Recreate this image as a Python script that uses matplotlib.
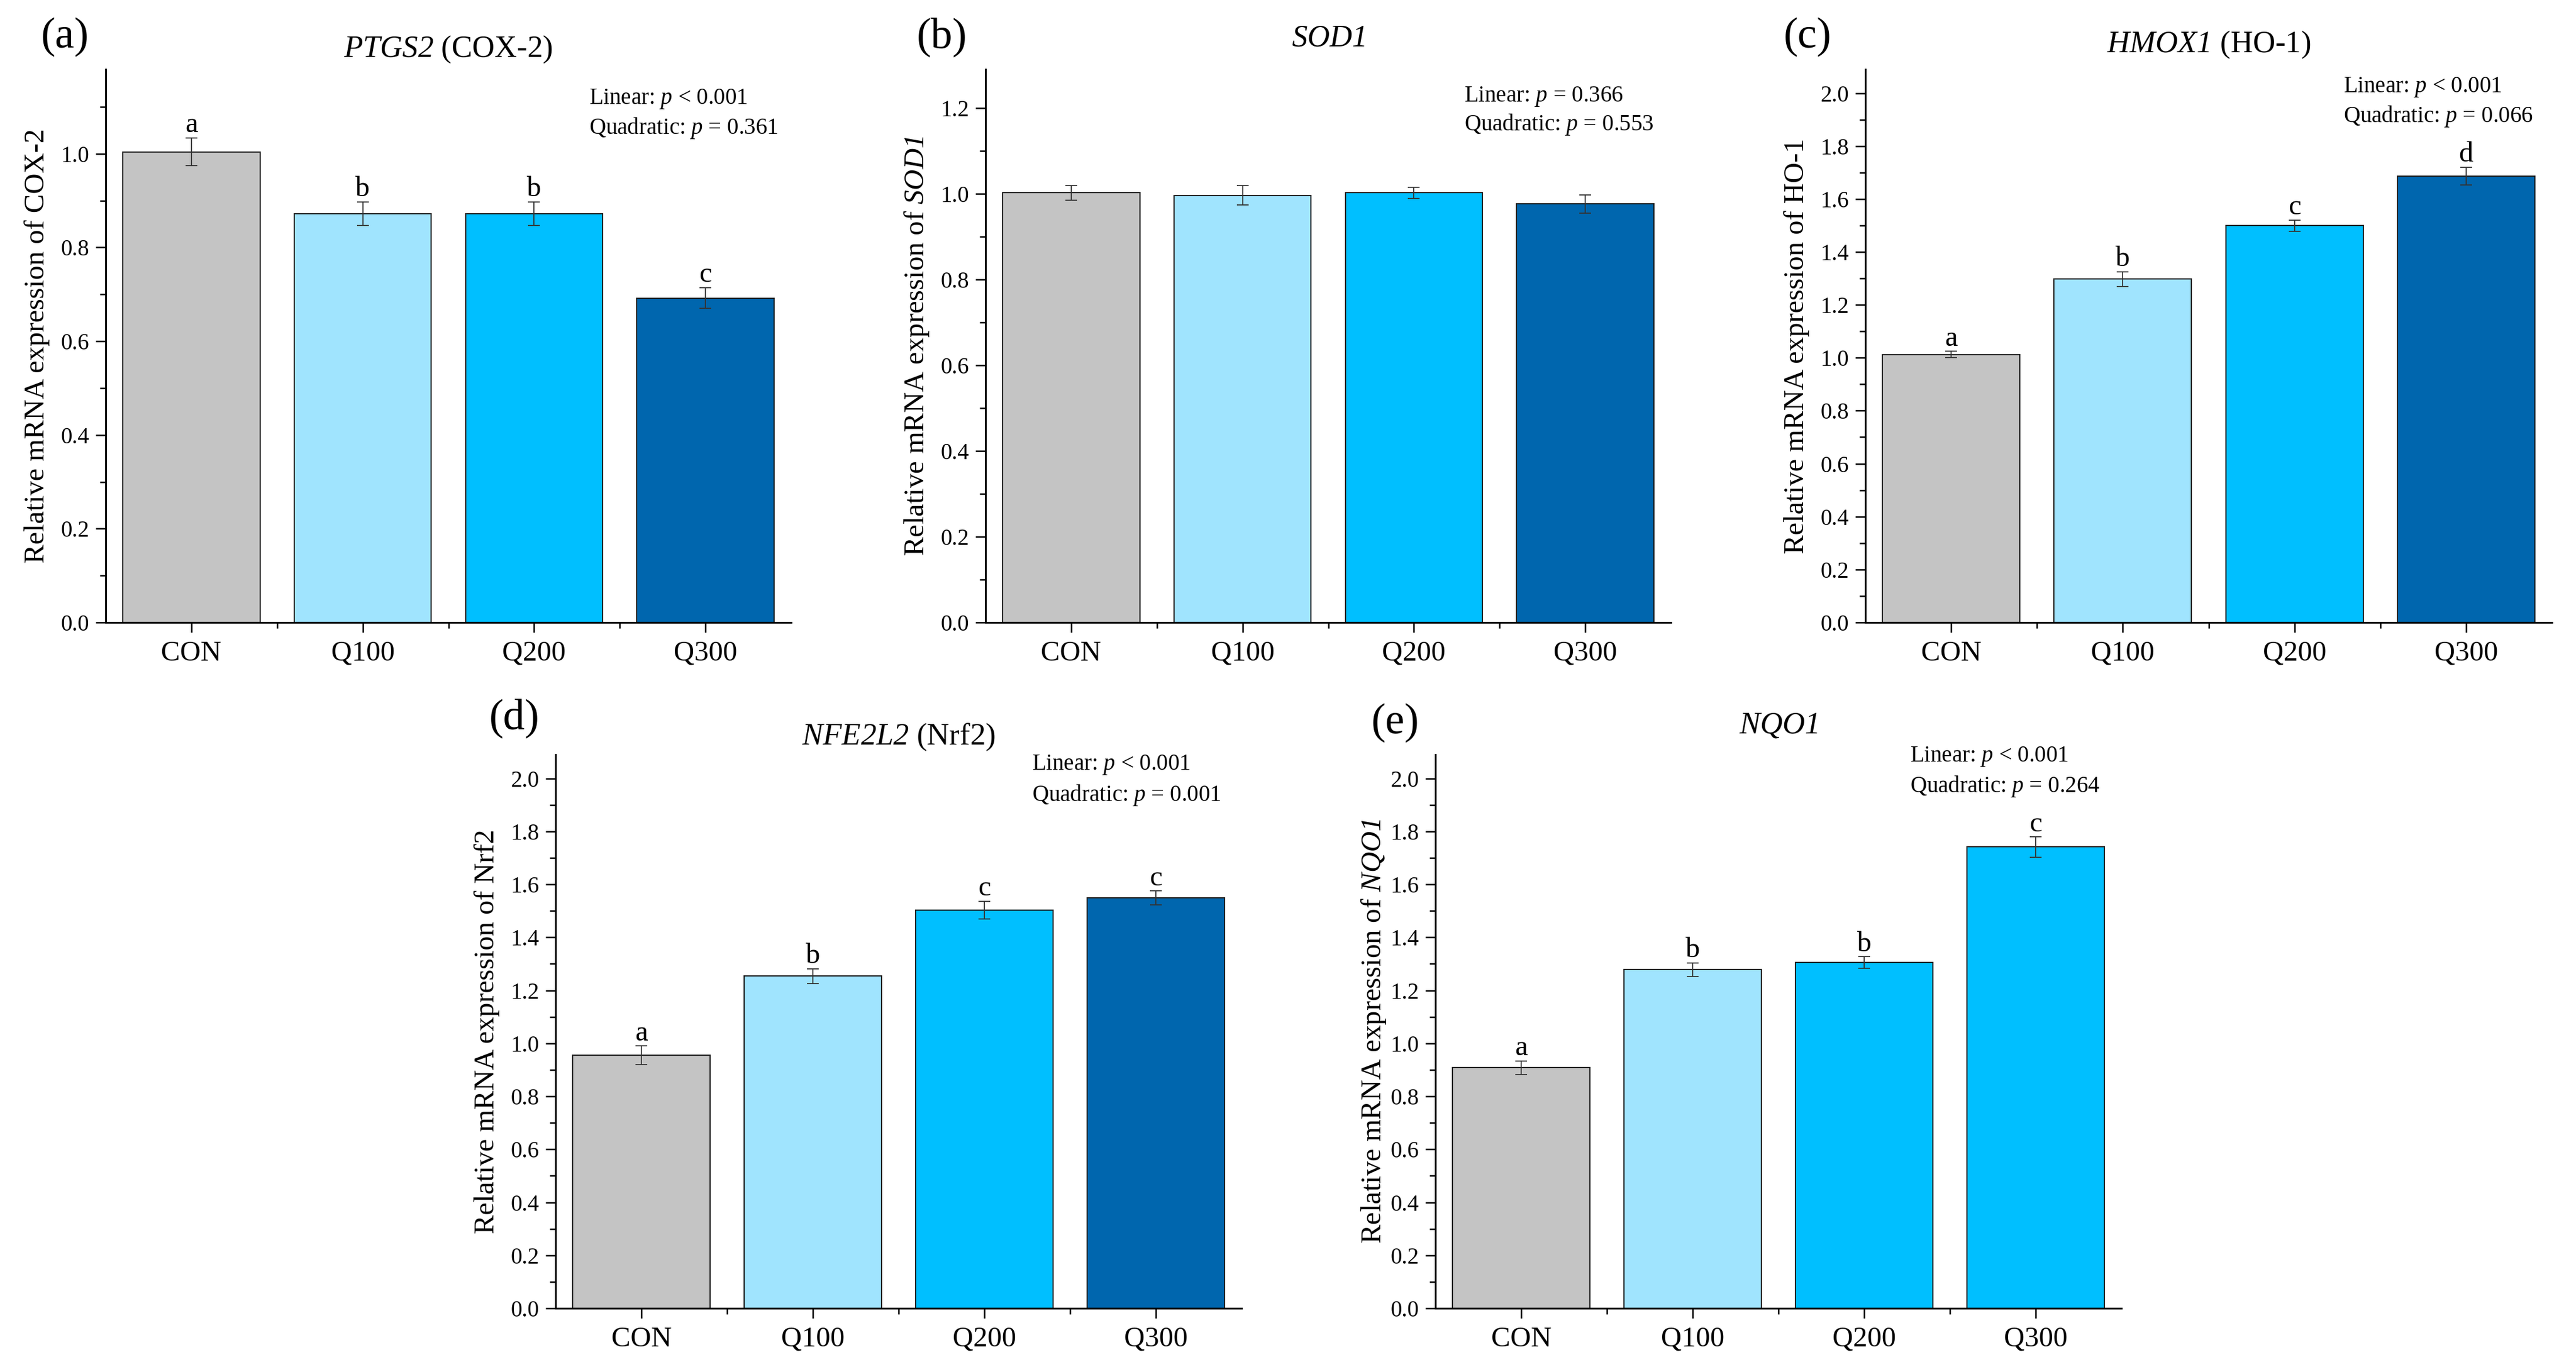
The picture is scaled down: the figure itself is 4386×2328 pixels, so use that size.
import matplotlib
matplotlib.use("Agg")
import matplotlib.pyplot as plt
from matplotlib.ticker import MultipleLocator, FormatStrFormatter, FixedLocator

plt.rcParams['font.family'] = ['Liberation Serif', 'DejaVu Serif']
plt.rcParams['mathtext.fontset'] = 'custom'
plt.rcParams['mathtext.rm'] = 'Liberation Serif'
plt.rcParams['mathtext.it'] = 'Liberation Serif:italic'
# \mathsf is used for gene names so that digits come out italic too
plt.rcParams['mathtext.sf'] = 'Liberation Serif:italic'

groups = ['CON', 'Q100', 'Q200', 'Q300']

# (a) PTGS2
cox2_mean = [1.004, 0.872, 0.872, 0.692]
cox2_err = [0.030, 0.025, 0.025, 0.022]
cox2_letters = ['a', 'b', 'b', 'c']

# (b) SOD1
sod1_mean = [1.002, 0.996, 1.002, 0.976]
sod1_err = [0.017, 0.023, 0.013, 0.021]
sod1_letters = ['', '', '', '']

# (c) HMOX1
ho1_mean = [1.012, 1.297, 1.499, 1.686]
ho1_err = [0.012, 0.028, 0.021, 0.034]
ho1_letters = ['a', 'b', 'c', 'd']

# (d) NFE2L2
nrf2_mean = [0.955, 1.254, 1.503, 1.549]
nrf2_err = [0.035, 0.028, 0.033, 0.026]
nrf2_letters = ['a', 'b', 'c', 'c']

# (e) NQO1
nqo1_mean = [0.908, 1.278, 1.305, 1.741]
nqo1_err = [0.025, 0.025, 0.022, 0.038]
nqo1_letters = ['a', 'b', 'b', 'c']

gray, light, mid, dark = '#C4C4C4', '#A0E4FE', '#00BFFF', '#0066AE'

W, H = 4386, 2328
fig = plt.figure(figsize=(W / 100, H / 100), dpi=100)


def add_panel(box, label, label_xy, title, title_y, ylab, ylab_x, means, errs,
              letters, colors, ymax, ymajor, stats, stats_xy):
    l, r, t, b = box
    ax = fig.add_axes([l / W, 1 - b / H, (r - l) / W, (b - t) / H])
    x = list(range(len(groups)))
    ax.bar(x, means, width=0.8, color=colors, edgecolor='#222222', linewidth=1.5, zorder=2)
    ax.errorbar(x, means, yerr=errs, fmt='none', ecolor='#333333', elinewidth=1.3,
                capsize=7, capthick=1.3, zorder=3)
    for xi, m, e, s in zip(x, means, errs, letters):
        if s:
            ax.annotate(s, (xi, m + e), xytext=(0, 7), textcoords='offset points',
                        ha='center', va='baseline', fontsize=35)
    ax.set_xlim(-0.5, 3.5)
    ax.set_ylim(0, ymax)
    ax.set_xticks(x)
    ax.set_xticklabels(groups)
    ax.xaxis.set_minor_locator(FixedLocator([0.5, 1.5, 2.5]))
    ax.yaxis.set_major_locator(MultipleLocator(0.2))
    ax.yaxis.set_minor_locator(MultipleLocator(0.1))
    ax.yaxis.set_major_formatter(FormatStrFormatter('%.1f'))
    ax.set_yticks([v * 0.2 for v in range(int(ymajor / 0.2 + 0.5) + 1)])
    for s in ['top', 'right']:
        ax.spines[s].set_visible(False)
    for s in ['left', 'bottom']:
        ax.spines[s].set_linewidth(2.2)
    ax.tick_params(axis='both', which='major', direction='out', length=12, width=1.8)
    ax.tick_params(axis='both', which='minor', direction='out', length=7, width=1.8)
    ax.tick_params(axis='y', labelsize=28, pad=8)
    ax.tick_params(axis='x', labelsize=35, pad=10)
    ax.text(ylab_x, 0.5, ylab, transform=ax.transAxes, rotation=90,
            ha='center', va='center', fontsize=35)
    ax.text(0.5, title_y, title, transform=ax.transAxes, ha='center',
            va='baseline', fontsize=38)
    ax.text(stats_xy[0], stats_xy[1], stats[0], transform=ax.transAxes,
            ha='left', va='center', fontsize=28)
    ax.text(stats_xy[0], stats_xy[2], stats[1], transform=ax.transAxes,
            ha='left', va='center', fontsize=28)
    fig.text(label_xy[0] / W, 1 - label_xy[1] / H, label, ha='left', va='center', fontsize=53)
    return ax


add_panel((180, 1347, 118, 1060), '(a)', (70, 63), r'$\mathsf{PTGS2}$ (COX-2)', 1.023,
          'Relative mRNA expression of COX-2', -0.100, cox2_mean, cox2_err, cox2_letters,
          [gray, light, mid, dark], 1.18, 1.0,
          (r'Linear: $p$ < 0.001', r'Quadratic: $p$ = 0.361'), (0.705, 0.946, 0.894))

add_panel((1678, 2845, 118, 1060), '(b)', (1561, 63), r'$\mathsf{SOD1}$', 1.042,
          r'Relative mRNA expression of $\mathsf{SOD1}$', -0.100, sod1_mean, sod1_err,
          sod1_letters, [gray, light, mid, dark], 1.29, 1.2,
          (r'Linear: $p$ = 0.366', r'Quadratic: $p$ = 0.553'), (0.698, 0.951, 0.900))

add_panel((3176, 4345, 118, 1060), '(c)', (3037, 63), r'$\mathsf{HMOX1}$ (HO-1)', 1.031,
          'Relative mRNA expression of HO-1', -0.100, ho1_mean, ho1_err, ho1_letters,
          [gray, light, mid, dark], 2.09, 2.0,
          (r'Linear: $p$ < 0.001', r'Quadratic: $p$ = 0.066'), (0.696, 0.968, 0.915))

add_panel((946, 2114, 1285, 2228), '(d)', (833, 1223), r'$\mathsf{NFE2L2}$ (Nrf2)', 1.018,
          'Relative mRNA expression of Nrf2', -0.100, nrf2_mean, nrf2_err, nrf2_letters,
          [gray, light, mid, dark], 2.09, 2.0,
          (r'Linear: $p$ < 0.001', r'Quadratic: $p$ = 0.001'), (0.694, 0.981, 0.927))

add_panel((2444, 3612, 1285, 2228), '(e)', (2335, 1231), r'$\mathsf{NQO1}$', 1.039,
          r'Relative mRNA expression of $\mathsf{NQO1}$', -0.090, nqo1_mean, nqo1_err,
          nqo1_letters, [gray, light, mid, mid], 2.09, 2.0,
          (r'Linear: $p$ < 0.001', r'Quadratic: $p$ = 0.264'), (0.692, 0.996, 0.943))

fig.savefig('out.png', dpi=100)
